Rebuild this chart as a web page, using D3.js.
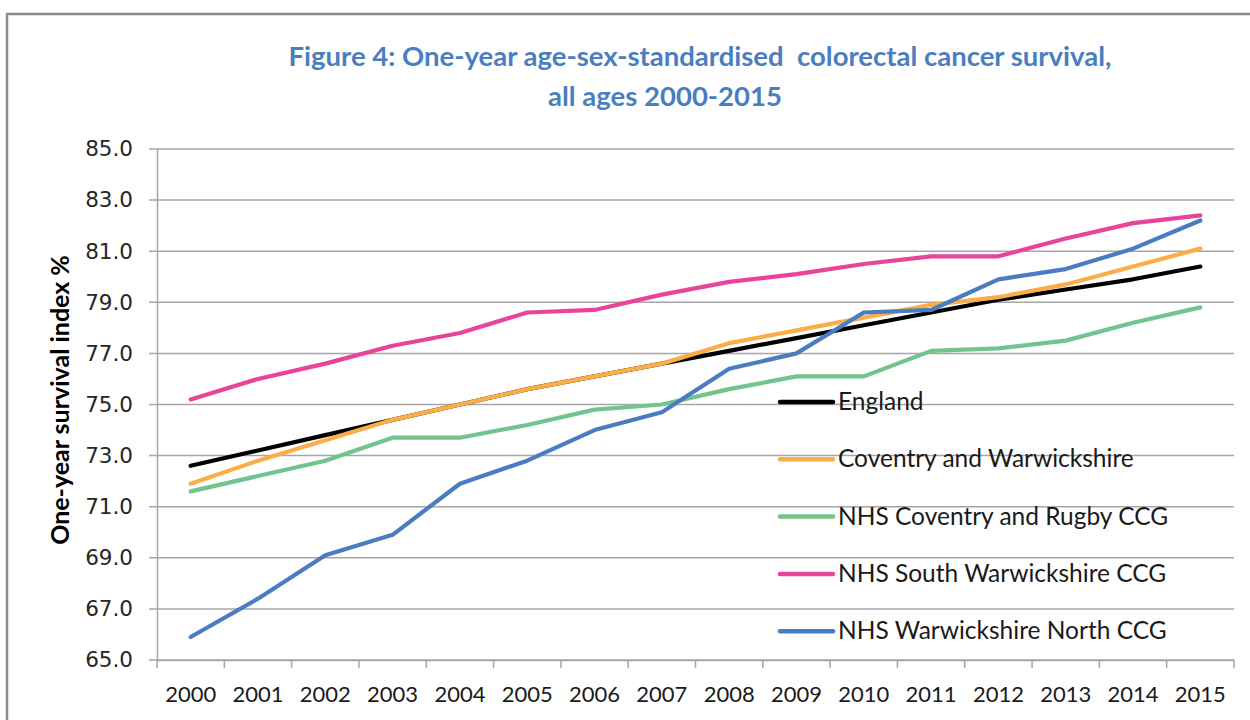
<!DOCTYPE html>
<html>
<head>
<meta charset="utf-8">
<script src="https://cdn.jsdelivr.net/npm/d3@7"></script>
<style>
  body { margin: 0; background: #fff; }
  svg { display: block; }
</style>
</head>
<body>
<svg width="1250" height="720"></svg>
<script>
// Data
var years = ["2000","2001","2002","2003","2004","2005","2006","2007",
             "2008","2009","2010","2011","2012","2013","2014","2015"];

var england      = [72.6,73.2,73.8,74.4,75.0,75.6,76.1,76.6,77.1,77.6,78.1,78.6,79.1,79.5,79.9,80.4];
var covWarks     = [71.9,72.8,73.6,74.4,75.0,75.6,76.1,76.6,77.4,77.9,78.4,78.9,79.2,79.7,80.4,81.1];
var covRugby     = [71.6,72.2,72.8,73.7,73.7,74.2,74.8,75.0,75.6,76.1,76.1,77.1,77.2,77.5,78.2,78.8];
var southWarks   = [75.2,76.0,76.6,77.3,77.8,78.6,78.7,79.3,79.8,80.1,80.5,80.8,80.8,81.5,82.1,82.4];
var warksNorth   = [65.9,67.4,69.1,69.9,71.9,72.8,74.0,74.7,76.4,77.0,78.6,78.7,79.9,80.3,81.1,82.2];

var seriesNames  = ["England","Coventry and Warwickshire","NHS Coventry and Rugby CCG",
                    "NHS South Warwickshire CCG","NHS Warwickshire North CCG"];
var seriesColors = ["#000000","#fbad47","#72c38c","#e8449a","#4a7cc2"];
var yTicks = [65,67,69,71,73,75,77,79,81,83,85];

var series = [england, covWarks, covRugby, southWarks, warksNorth].map(function(vals, i) {
    return {name: seriesNames[i], color: seriesColors[i],
            values: vals.map(function(v, j) { return {year: years[j], value: v}; })};
});

var svg = d3.select("svg");
var plot = {left: 157, right: 1234, top: 149, bottom: 660};

// outer frame of the chart
svg.append("path")
    .attr("d", "M7,720 V14 H1250")
    .attr("fill", "none")
    .attr("stroke", "#8a8a8a")
    .attr("stroke-width", 2.5);

// title
var title = svg.append("text")
    .attr("text-anchor", "middle")
    .attr("fill", "#4a7ebf")
    .style("font-family", "Lato, sans-serif")
    .style("font-weight", "bold")
    .style("font-size", "27.5px");
title.append("tspan").attr("x", 700).attr("y", 66)
    .text("Figure 4: One-year age-sex-standardised\u00a0 colorectal cancer survival,");
title.append("tspan").attr("x", 665).attr("y", 106)
    .text("all ages 2000-2015");

var xScale = d3.scaleBand().domain(years).range([plot.left, plot.right]),
    yScale = d3.scaleLinear().domain([65, 85]).range([plot.bottom, plot.top]);

// horizontal gridlines
svg.append("g").selectAll("line")
    .data(yTicks)
    .enter().append("line")
    .attr("x1", plot.left - 8)
    .attr("x2", plot.right)
    .attr("y1", function(d) { return yScale(d); })
    .attr("y2", function(d) { return yScale(d); })
    .attr("stroke", "#a6a6a6")
    .attr("stroke-width", 1.5);

// y axis
var yAxis = svg.append("g")
    .attr("transform", "translate(" + plot.left + ",0)")
    .call(d3.axisLeft(yScale).tickValues(yTicks).tickSize(0).tickPadding(24)
        .tickFormat(d3.format(".1f")));
yAxis.select(".domain").attr("stroke", "#a6a6a6").attr("stroke-width", 1.5);
yAxis.selectAll("text")
    .attr("fill", "#262626")
    .style("font-family", "'DejaVu Sans', sans-serif")
    .style("font-size", "21.5px");

// x axis, labels centred in each band
var xAxis = svg.append("g")
    .attr("transform", "translate(0," + plot.bottom + ")")
    .call(d3.axisBottom(xScale).tickSize(0).tickPadding(26));
xAxis.select(".domain").attr("stroke", "#a6a6a6").attr("stroke-width", 1.5);
xAxis.selectAll("text")
    .attr("fill", "#1a1a1a")
    .style("font-family", "Lato, sans-serif")
    .style("font-size", "22px");

// tick marks sit on the band edges
svg.append("g").selectAll("line")
    .data(years.concat(["end"]))
    .enter().append("line")
    .attr("x1", function(d) { return d === "end" ? plot.right : xScale(d); })
    .attr("x2", function(d) { return d === "end" ? plot.right : xScale(d); })
    .attr("y1", plot.bottom)
    .attr("y2", plot.bottom + 8)
    .attr("stroke", "#a6a6a6")
    .attr("stroke-width", 1.5);

// y axis title
svg.append("text")
    .attr("transform", "translate(69,400) rotate(-90)")
    .attr("text-anchor", "middle")
    .attr("fill", "#000")
    .style("font-family", "Lato, sans-serif")
    .style("font-weight", "bold")
    .style("font-size", "25px")
    .text("One-year survival index %");

// lines
var line = d3.line()
    .x(function(d) { return xScale(d.year) + xScale.bandwidth() / 2; })
    .y(function(d) { return yScale(d.value); });

svg.append("g").selectAll("path")
    .data(series)
    .enter().append("path")
    .attr("d", function(d) { return line(d.values); })
    .attr("fill", "none")
    .attr("stroke", function(d) { return d.color; })
    .attr("stroke-width", 4.2)
    .attr("stroke-linejoin", "round")
    .attr("stroke-linecap", "round");

// legend
var legend = svg.append("g").attr("transform", "translate(780,402)");
var rows = legend.selectAll("g")
    .data(series)
    .enter().append("g")
    .attr("transform", function(d, i) { return "translate(0," + (i * 57.3) + ")"; });
rows.append("line")
    .attr("x1", 0).attr("x2", 53)
    .attr("stroke", function(d) { return d.color; })
    .attr("stroke-width", 4.5)
    .attr("stroke-linecap", "round");
rows.append("text")
    .attr("x", 58)
    .attr("y", 8)
    .attr("fill", "#1a1a1a")
    .style("font-family", "Lato, sans-serif")
    .style("font-size", "24.5px")
    .text(function(d) { return d.name; });
</script>
</body>
</html>
